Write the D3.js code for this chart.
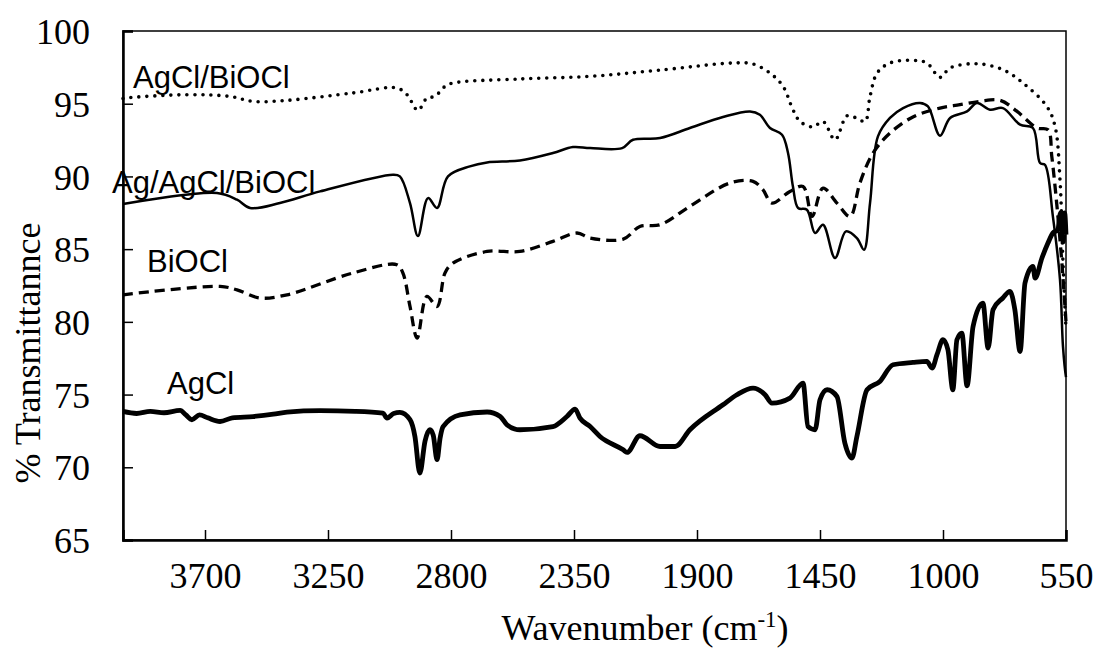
<!DOCTYPE html>
<html>
<head>
<meta charset="utf-8">
<script src="https://cdn.jsdelivr.net/npm/d3@7"></script>
<style>
  body { margin: 0; background: #fff; }
  .tick text, .axtitle { font-family: "Liberation Serif", "Times New Roman", serif; font-size: 36px; fill: #000; }
  .lbl { font-family: "Liberation Sans", Arial, sans-serif; font-size: 31px; fill: #000; }
</style>
</head>
<body>
<div id="graph"></div>
<script>
// x ticks (wavenumber, reversed axis) and y ticks
var xTicks = [3700, 3250, 2800, 2350, 1900, 1450, 1000, 550];
var yTicks = [65, 70, 75, 80, 85, 90, 95, 100];

// series: [wavenumber, % transmittance]
var agclBiocl = [[4000,95.35],[3985,95.4],[3766,95.62],[3609,95.5],[3524,95.16],[3400,95.23],[3159,95.74],[2998,96.08],
  [2961,95.62],[2921,94.54],[2888,95.39],[2859,95.5],[2822,96.19],[2793,96.42],[2548,96.7],[2291,96.88],[2046,97.29],
  [1768,97.8],[1695,97.73],[1633,97.11],[1585,96.19],[1549,94.59],[1523,93.78],[1476,93.4],[1439,93.78],[1395,92.52],
  [1351,94.17],[1315,94.0],[1285,93.78],[1267,95.5],[1241,97.11],[1194,97.8],[1110,97.98],[1059,97.8],[1011,96.81],
  [974,97.46],[876,97.75],[781,97.34],[707,96.42],[620,94.81],[590,93.44],[572,89.77],[561,84.06],[550,79.5]];

var agAgclBiocl = [[4000,88.1],[3656,88.86],[3583,88.4],[3535,87.83],[3426,88.17],[3279,88.97],[3012,90.12],[2987,90.0],
  [2950,88.17],[2921,85.9],[2884,88.51],[2851,87.83],[2811,90.0],[2731,90.69],[2668,90.96],[2548,91.1],[2427,91.61],
  [2354,92.02],[2291,91.95],[2174,91.95],[2134,92.52],[2035,92.64],[1926,93.33],[1805,94.09],[1706,94.47],[1670,94.24],
  [1633,93.33],[1589,92.87],[1567,91.61],[1549,89.31],[1530,87.83],[1498,87.71],[1468,86.11],[1439,86.68],[1395,84.39],
  [1355,86.22],[1315,85.76],[1289,84.96],[1267,88.17],[1238,92.75],[1194,94.02],[1146,94.7],[1084,95.05],[1055,94.81],
  [1011,92.8],[974,94.02],[912,94.47],[876,95.05],[828,94.59],[781,94.7],[718,93.56],[671,93.33],[645,90.92],[627,90.8],
  [598,87.25],[572,82.9],[561,78.3],[550,76.2]];

var biocl = [[4000,81.86],[3645,82.44],[3583,82.2],[3499,81.64],[3400,81.86],[3159,83.36],[2998,83.93],[2976,83.36],
  [2950,81.06],[2924,78.89],[2888,81.75],[2851,81.06],[2822,83.36],[2793,84.04],[2668,84.84],[2548,84.84],[2427,85.53],
  [2339,86.11],[2291,85.76],[2170,85.69],[2109,86.56],[2035,86.68],[1926,87.94],[1779,89.55],[1695,89.66],[1659,89.09],
  [1626,88.17],[1560,88.97],[1512,89.31],[1479,87.25],[1439,89.2],[1388,88.17],[1340,87.25],[1304,89.55],[1256,91.61],
  [1194,92.98],[1110,94.09],[1011,94.7],[938,94.93],[865,95.16],[791,95.23],[729,94.47],[656,93.33],[616,93.21],
  [602,91.38],[583,87.94],[565,84.04],[550,80.0]];

var agcl = [[4000,73.84],[3950,73.7],[3900,73.85],[3850,73.75],[3791,73.91],[3770,73.6],[3748,73.27],[3720,73.6],
  [3690,73.4],[3645,73.15],[3600,73.4],[3524,73.49],[3450,73.65],[3400,73.8],[3279,73.89],[3150,73.85],[3049,73.73],
  [3034,73.38],[3010,73.7],[2987,73.77],[2950,73.27],[2932,72.12],[2914,69.6],[2895,71.8],[2877,72.58],[2865,72.2],
  [2851,70.52],[2840,72.0],[2829,72.8],[2767,73.61],[2668,73.8],[2620,73.5],[2595,72.92],[2548,72.58],[2427,72.8],
  [2376,73.49],[2346,74.0],[2328,73.38],[2291,72.8],[2255,72.12],[2170,71.2],[2156,71.02],[2109,72.17],[2035,71.43],
  [1980,71.43],[1926,72.58],[1805,74.3],[1754,74.99],[1695,75.45],[1651,74.99],[1626,74.41],[1560,74.76],[1512,75.79],
  [1494,72.8],[1468,72.58],[1450,74.64],[1424,75.33],[1388,74.87],[1359,71.66],[1333,70.63],[1315,72.12],[1278,75.33],
  [1231,75.9],[1183,77.05],[1110,77.21],[1059,77.28],[1040,76.82],[1022,77.74],[1000,78.77],[982,78.08],[964,75.33],
  [949,78.77],[931,79.23],[912,75.6],[890,79.68],[854,81.29],[835,78.2],[817,80.83],[781,81.64],[755,82.1],[737,80.83],
  [718,77.96],[700,82.67],[671,83.81],[663,83.01],[638,84.39],[616,85.42],[598,86.11],[580,86.33],[570,87.5],[560,85.5],
  [555,87.5],[550,86]];

var seriesNames = ["AgCl/BiOCl", "Ag/AgCl/BiOCl", "BiOCl", "AgCl"];

var width = 1098, height = 648;
var plotL = 123, plotR = 1066, plotT = 31, plotB = 540;

var x = d3.scaleLinear().domain([4000, 550]).range([plotL, plotR]);
var y = d3.scaleLinear().domain([65, 100]).range([plotB, plotT]);

var svg = d3.select("div#graph")
    .append("svg")
    .attr("width", width)
    .attr("height", height);

// frame
svg.append("rect")
    .attr("x", plotL).attr("y", plotT)
    .attr("width", plotR - plotL).attr("height", plotB - plotT)
    .attr("fill", "none").attr("stroke", "#000").attr("stroke-width", 1.5);

// axes, ticks pointing inside
var xAxis = d3.axisBottom(x).tickValues(xTicks).tickSize(-10).tickPadding(22).tickFormat(d3.format("d"));
var yAxis = d3.axisLeft(y).tickValues(yTicks).tickSize(-10).tickPadding(33);

var gx = svg.append("g").attr("transform", "translate(0," + plotB + ")").call(xAxis);
var gy = svg.append("g").attr("transform", "translate(" + plotL + ",0)").call(yAxis);
[gx, gy].forEach(function(g) {
    g.select(".domain").attr("stroke", "#000").attr("stroke-width", 2.5);
    g.selectAll(".tick line").attr("stroke", "#000").attr("stroke-width", 1.5);
    g.selectAll(".tick text").attr("font-family", null).attr("font-size", null);
});
gx.selectAll(".tick text").attr("dy", "0.71em");
gy.selectAll(".tick text").attr("dy", "0.35em");

var smooth = d3.line()
    .x(function(d) { return x(d[0]); })
    .y(function(d) { return y(d[1]); })
    .curve(d3.curveCatmullRom.alpha(0.5));
var mono = d3.line()
    .x(function(d) { return x(d[0]); })
    .y(function(d) { return y(d[1]); })
    .curve(d3.curveMonotoneX);

// draw spectra
svg.append("path").datum(agclBiocl)
    .attr("d", smooth).attr("fill", "none").attr("stroke", "#000")
    .attr("stroke-width", 3.6).attr("stroke-linecap", "round").attr("stroke-dasharray", "0,8");
svg.append("path").datum(biocl)
    .attr("d", smooth).attr("fill", "none").attr("stroke", "#000")
    .attr("stroke-width", 3.3).attr("stroke-dasharray", "10,6");
svg.append("path").datum(agAgclBiocl)
    .attr("d", smooth).attr("fill", "none").attr("stroke", "#000")
    .attr("stroke-width", 2.5).attr("stroke-linejoin", "round");
svg.append("path").datum(agcl)
    .attr("d", mono).attr("fill", "none").attr("stroke", "#000")
    .attr("stroke-width", 4.8).attr("stroke-linejoin", "round");

// series labels
var lblPos = [[133, 88], [112, 193], [147, 272], [167, 394]];
svg.selectAll("text.lbl")
    .data(seriesNames)
    .enter()
    .append("text")
    .attr("class", "lbl")
    .attr("x", function(d, i) { return lblPos[i][0]; })
    .attr("y", function(d, i) { return lblPos[i][1]; })
    .text(function(d) { return d; });

// axis titles
var xt = svg.append("text").attr("class", "axtitle")
    .attr("x", 645).attr("y", 640).attr("text-anchor", "middle");
xt.append("tspan").text("Wavenumber (cm");
xt.append("tspan").attr("dy", -13).attr("font-size", 23).text("-1");
xt.append("tspan").attr("dy", 13).text(")");

svg.append("text").attr("class", "axtitle")
    .attr("transform", "translate(40,353) rotate(-90)")
    .attr("text-anchor", "middle")
    .text("% Transmittannce");
</script>
</body>
</html>
